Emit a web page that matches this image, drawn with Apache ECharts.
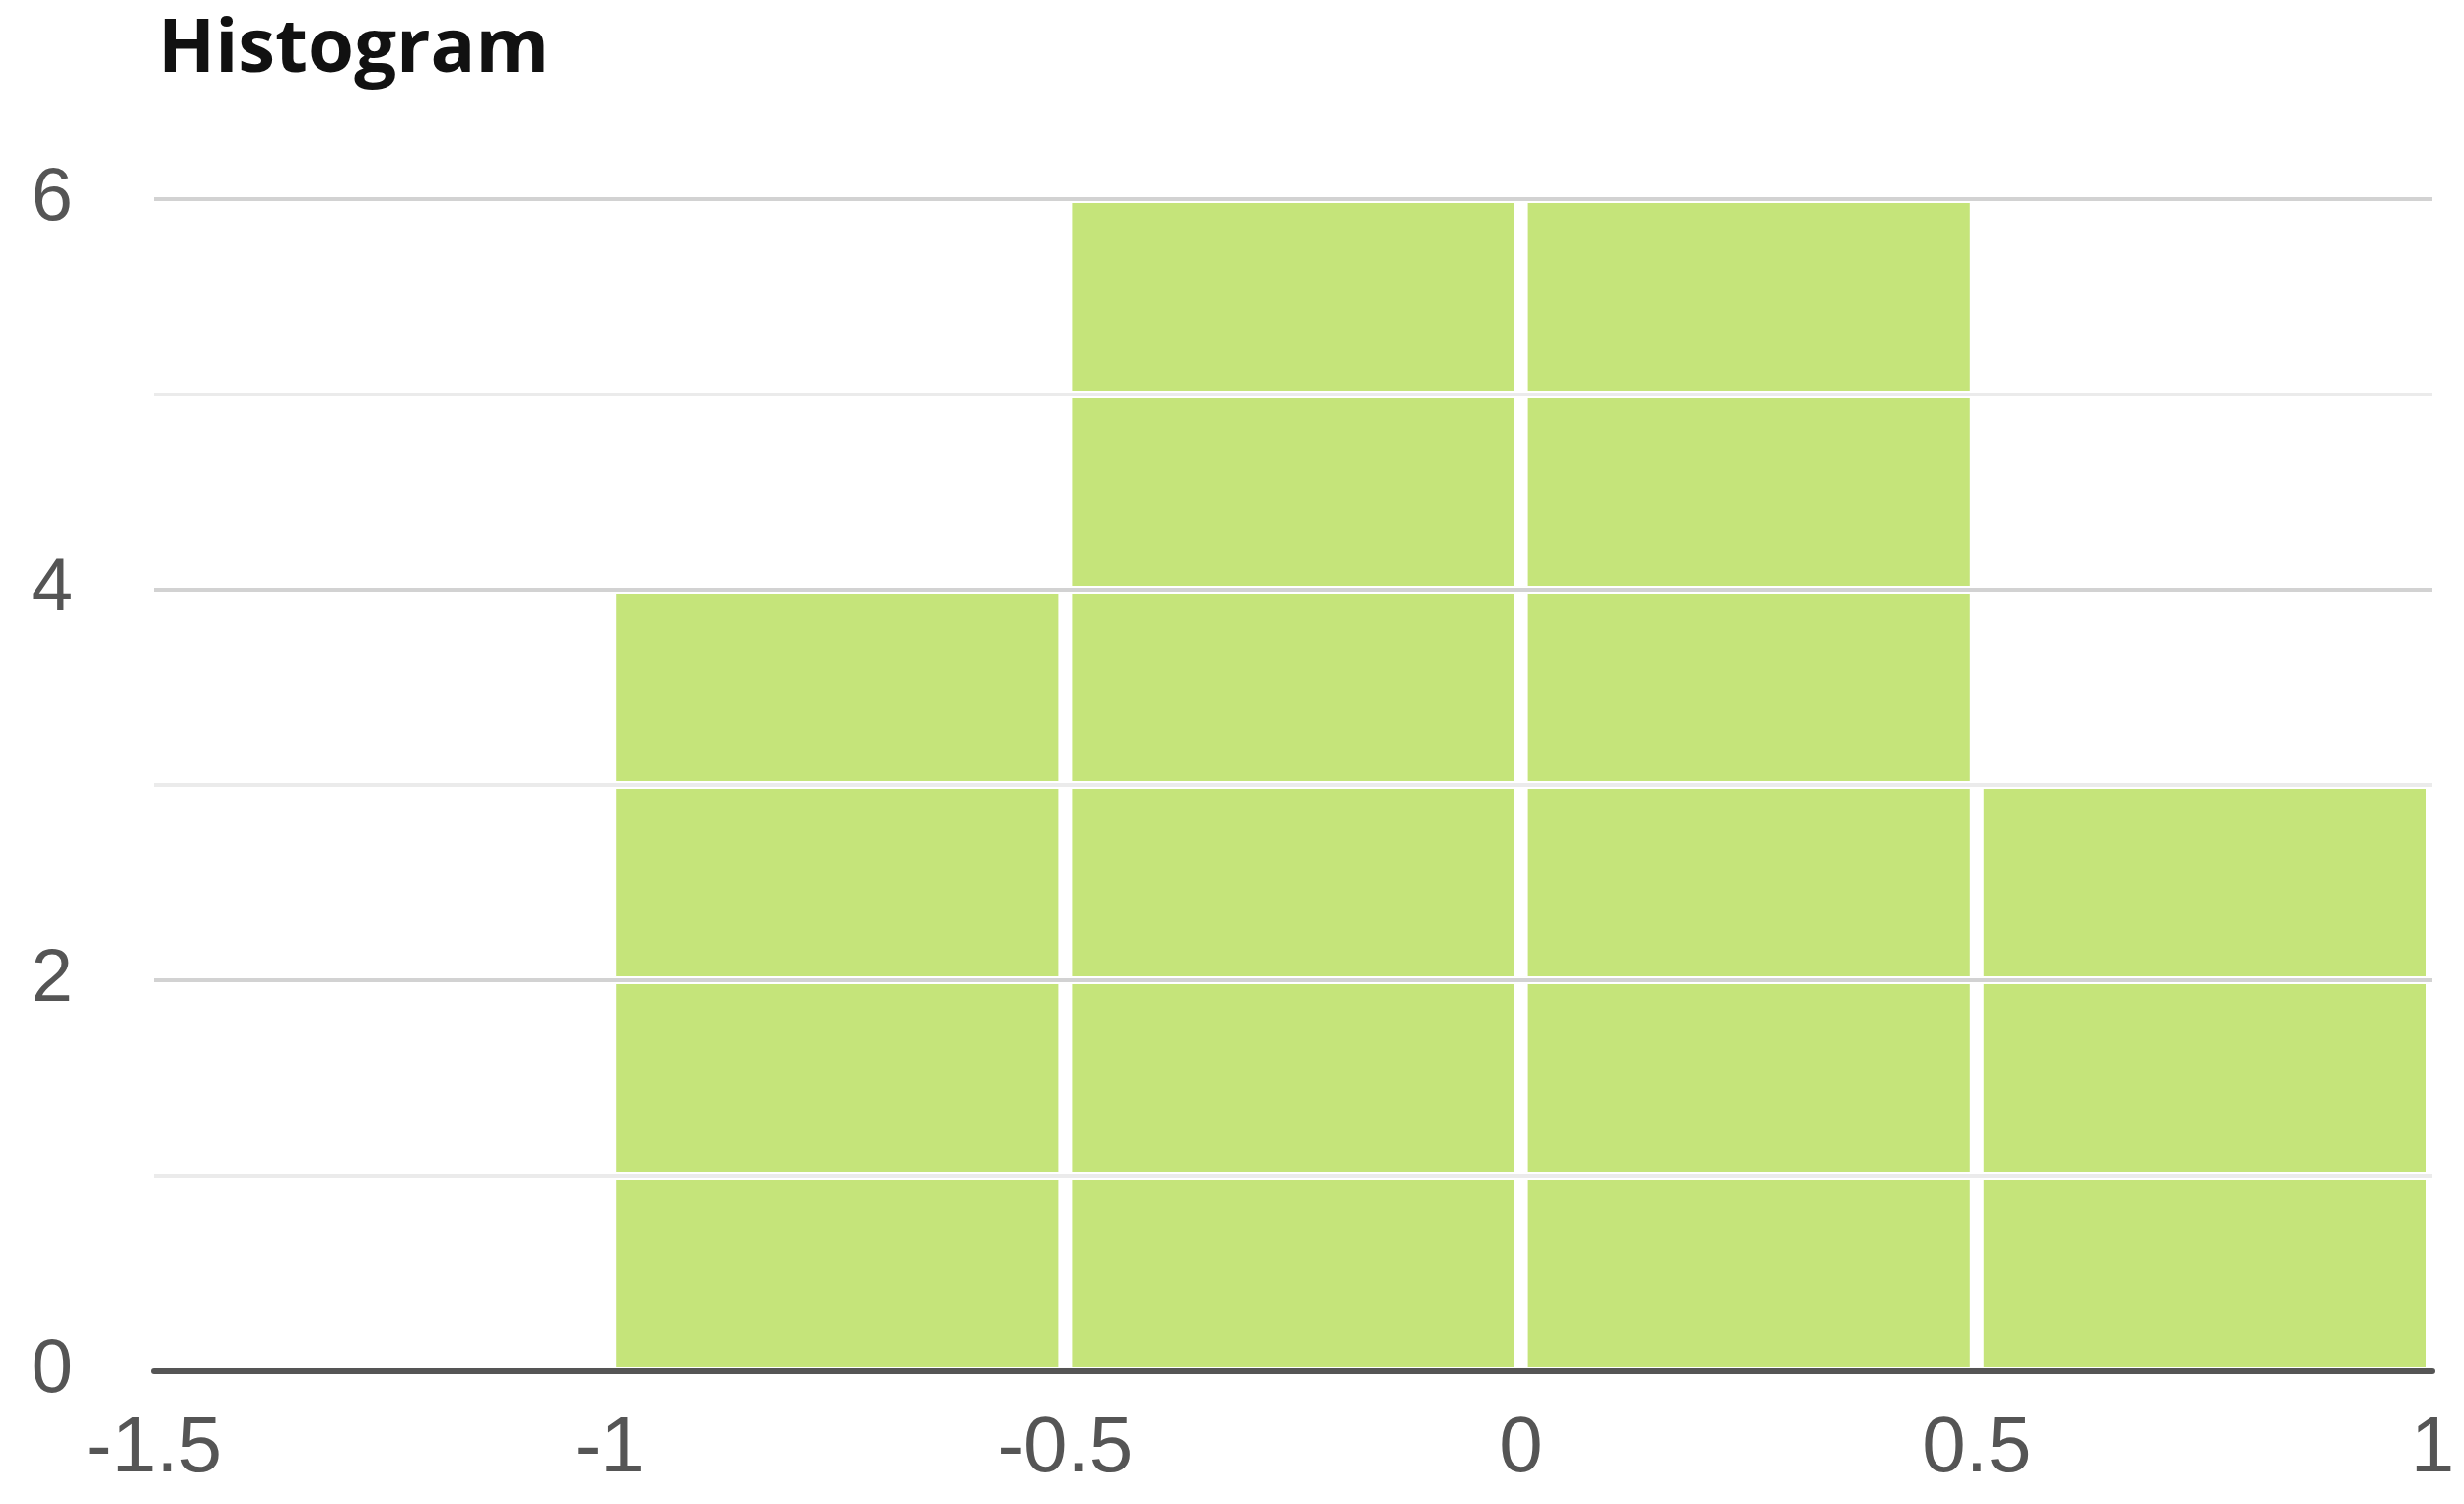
<!DOCTYPE html>
<html>
<head>
<meta charset="utf-8">
<title>Histogram</title>
<script src="https://cdn.jsdelivr.net/npm/echarts@6/dist/echarts.min.js"></script>
<style>
  html, body { margin: 0; padding: 0; background: #fff; }
  #chart { width: 2499px; height: 1525px; }
</style>
</head>
<body>
<div id="chart"></div>
<script>
  // bin edges and item counts per bin
  const binEdges = [-1.5, -1, -0.5, 0, 0.5, 1]
  const counts = [0, 4, 6, 6, 3]
  const xTicks = [-1.5, -1, -0.5, 0, 0.5, 1]
  const yTicks = [0, 2, 4, 6]

  let bins = counts.map((c, i) => [binEdges[i], binEdges[i + 1], c])

  let myChart = echarts.init(document.getElementById('chart'))
  let option = {
    backgroundColor: '#fff',
    animation: false,
    title: {
      text: 'Histogram',
      left: 155,
      top: 8,
      textStyle: {
        fontFamily: 'Open Sans',
        fontWeight: 'bold',
        fontSize: 76,
        color: '#111'
      }
    },
    grid: {
      left: 156,
      right: 32,
      top: 202,
      bottom: 135,
      containLabel: false
    },
    xAxis: {
      type: 'value',
      min: xTicks[0],
      max: xTicks[xTicks.length - 1],
      interval: 0.5,
      z: 5,
      axisLine: { show: true, onZero: false, lineStyle: { color: '#555', width: 6 } },
      axisTick: { show: false },
      splitLine: { show: false },
      axisLabel: {
        color: '#555',
        fontFamily: 'Liberation Sans',
        fontSize: 80,
        margin: 40
      }
    },
    yAxis: {
      type: 'value',
      min: 0,
      max: yTicks[yTicks.length - 1],
      interval: 1,
      axisLine: { show: false },
      axisTick: { show: false },
      axisLabel: {
        color: '#555',
        fontFamily: 'Liberation Sans',
        fontSize: 76,
        margin: 82,
        formatter: v => yTicks.indexOf(v) > -1 ? String(v) : ''
      },
      splitLine: {
        show: true,
        lineStyle: { color: ['#d2d2d2', '#ebebeb'], width: 4 }
      }
    },
    series: [
      {
        type: 'custom',
        data: bins,
        encode: { x: [0, 1], y: 2 },
        renderItem: (params, api) => {
          let x0 = api.value(0)
          let x1 = api.value(1)
          let n = api.value(2)
          let children = []
          // one block per counted item, white gaps between blocks
          for (let k = 0; k < n; k++) {
            let p0 = api.coord([x0, k])
            let p1 = api.coord([x1, k + 1])
            children.push({
              type: 'rect',
              shape: {
                x: p0[0] + 7,
                y: p1[1] + 4,
                width: p1[0] - p0[0] - 14,
                height: p0[1] - p1[1] - 8
              },
              style: { fill: '#c5e47a' }
            })
          }
          return { type: 'group', children: children }
        }
      }
    ]
  }
  myChart.setOption(option)
</script>
</body>
</html>
